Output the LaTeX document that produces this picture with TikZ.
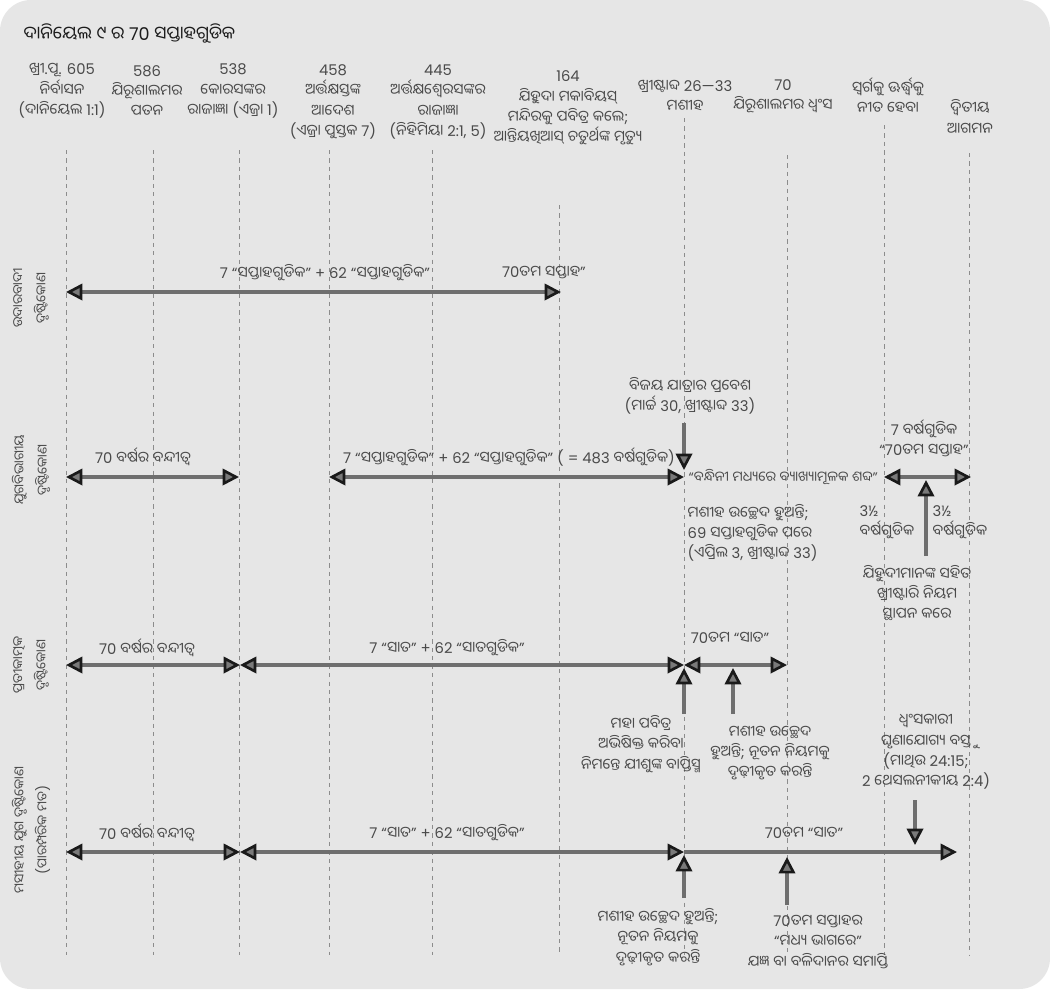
\documentclass[tikz,border=0pt]{standalone}
\usepackage{fontspec}
\usetikzlibrary{arrows.meta}
\setmainfont{Poppins}
\newfontfamily\latinfont{Poppins}
\newfontfamily\odiafont[Script=Oriya]{Noto Sans Oriya UI}
% Oriya letters switch to the Oriya face by themselves
\newXeTeXintercharclass\oriyaclass
\newcount\orcode
\orcode="0B00
\loop\ifnum\orcode<"0B80
 \XeTeXcharclass\orcode=\oriyaclass
 \advance\orcode by 1
\repeat
\XeTeXinterchartoks 0 \oriyaclass={\odiafont}
\XeTeXinterchartoks 4095 \oriyaclass={\odiafont}
\XeTeXinterchartoks \oriyaclass 0={\latinfont}
\XeTeXinterchartoks \oriyaclass 4095={\latinfont}
\XeTeXinterchartoks 4095 0={\latinfont}
\definecolor{ink}{HTML}{4A4A4A}
\definecolor{titleink}{HTML}{1C1C1C}
\definecolor{paper}{HTML}{E6E6E6}
\definecolor{bar}{HTML}{6E6E6E}
\definecolor{guideline}{HTML}{8C8C8C}
\definecolor{tipline}{HTML}{1A1A1A}
\definecolor{tipfill}{HTML}{7A7A7A}
\newcommand{\bodysize}{\fontsize{10.5}{14.4}\selectfont}
\newcommand{\lanesize}{\fontsize{9.5}{14.4}\selectfont}
\newcommand{\titlesize}{\fontsize{12.5}{15}\selectfont}
\tikzset{
 every node/.append style={font=\latinfont\bodysize,text=ink,align=center,inner sep=1pt},
 tri/.tip={Triangle[length=4.1mm,width=4.1mm,line width=1.9pt,color=tipline,fill=tipfill]},
 title/.style={anchor=west,text=titleink,font=\latinfont\titlesize},
 lane/.style={rotate=90,font=\latinfont\lanesize},
 guide/.style={draw=guideline,line width=.5pt,dash pattern=on 3pt off 3pt},
 span/.style={{tri}-{tri},draw=bar,line width=2.8pt},
 ray/.style={-{tri},draw=bar,line width=2.8pt},
 pin/.style={-{tri},draw=bar,line width=2.8pt},
}

\begin{document}
\XeTeXinterchartokenstate=1
\bodysize
\begin{tikzpicture}[x=0.025cm,y=-0.025cm]

\useasboundingbox (0,0) rectangle (1050,989);
\fill[white] (0,0) rectangle (1050,989);
\fill[paper,rounded corners=22] (0,0) rectangle (1050,989);
\node[title] (ttl) at (22,33) {ଦାନିୟେଲ ୯ ର 70 ସପ୍ତାହଗୁଡିକ};
% dates across the top
\node (h605) at (62,91) {ଖ୍ରୀ.ପୂ. 605\\ନିର୍ବାସନ\\(ଦାନିୟେଲ 1:1)};
\node (h586) at (147,91) {586\\ଯିରୂଶାଲମର\\ପତନ};
\node (h538) at (233,91) {538\\କୋରସଙ୍କର\\ରାଜାଜ୍ଞା (ଏଜ୍ରା 1)};
\node (h458) at (333,102) {458\\ଅର୍ତ୍ତକ୍ଷସ୍ତଙ୍କ\\ଆଦେଶ\\(ଏଜ୍ରା ପୁସ୍ତକ 7)};
\node (h445) at (438,102) {445\\ଅର୍ତ୍ତକ୍ଷଶ୍ୱେରସଙ୍କର\\ରାଜାଜ୍ଞା\\(ନିହିମିୟା 2:1, 5)};
\node (h164) at (568,108) {164\\ଯିହୁଦା ମକାବିୟସ୍\\ମନ୍ଦିରକୁ ପବିତ୍ର କଲେ;\\ଆନ୍ତିୟଖିଆସ୍ ଚତୁର୍ଥଙ୍କ ମୃତ୍ୟୁ};
\node (h26) at (685,96) {ଖ୍ରୀଷ୍ଟାବ୍ଦ 26—33\\ମଶୀହ};
\node (h70) at (783,96) {70\\ଯିରୂଶାଲମର ଧ୍ୱଂସ};
\node (hup) at (888,96) {ସ୍ୱର୍ଗକୁ ଊର୍ଦ୍ଧ୍ୱକୁ\\ନୀତ ହେବା};
\node (hend) at (970,117) {ଦ୍ୱିତୀୟ\\ଆଗମନ};
\foreach \gx/\gy in {66/150,153/150,239/150,329/150,432/150,559/205,684/118,787/155,884/125,969/153}
 \draw[guide] (\gx,\gy) -- (\gx,955);
% row labels
\node[lane] (v1) at (31,298) {ଉଦାରବାଦୀ\\[2pt]ଦୃଷ୍ଟିକୋଣ};
\node[lane] (v2) at (31,470) {ଯୁଗବିଭାଗୀୟ\\[2pt]ଦୃଷ୍ଟିକୋଣ};
\node[lane] (v3) at (31,665) {ପ୍ରତୀକାତ୍ମକ\\[2pt]ଦୃଷ୍ଟିକୋଣ};
\node[lane] (v4) at (31,830) {ମସୀହୀୟ ଯୁଗ ଦୃଷ୍ଟିକୋଣ\\[2pt](ପାରମ୍ପରିକ ମତ)};

% first row
\coordinate (a1) at (66,292); \coordinate (a2) at (561,292);
\draw[span] (a1) -- (a2);
\node (wk1) at (325,273) {7 “ସପ୍ତାହଗୁଡିକ” + 62 “ସପ୍ତାହଗୁଡିକ”};
\node (last1) at (544,273) {70ତମ ସପ୍ତାହ”};

% second row
\coordinate (b1) at (66,477); \coordinate (b2) at (239,477);
\coordinate (b3) at (329,477); \coordinate (b4) at (684,477);
\coordinate (b5) at (884,477); \coordinate (b6) at (971,477);
\draw[span] (b1) -- (b2); \draw[span] (b3) -- (b4); \draw[span] (b5) -- (b6);
\node (exile2) at (143,457) {70 ବର୍ଷର ବନ୍ଦୀତ୍ୱ};
\node (wk2) at (509,457) {7 “ସପ୍ତାହଗୁଡିକ” + 62 “ସପ୍ତାହଗୁଡିକ” ( = 483 ବର୍ଷଗୁଡିକ)};
\node (entry) at (690,396) {ବିଜୟ ଯାତ୍ରାର ପ୍ରବେଶ\\(ମାର୍ଚ୍ଚ 30, ଖ୍ରୀଷ୍ଟାବ୍ଦ 33)};
\node[anchor=west,font=\latinfont\fontsize{9.8}{14}\selectfont] (gap) at (687,477) {“ବନ୍ଧିନୀ ମଧ୍ୟରେ ବ୍ୟାଖ୍ୟାମୂଳକ ଶବ୍ଦ”};
\node (seven) at (924,438) {7 ବର୍ଷଗୁଡିକ\\“70ତମ ସପ୍ତାହ”};
\node[anchor=west,align=left] (cut1) at (686,533) {ମଶୀହ ଉଚ୍ଛେଦ ହୁଅନ୍ତି;\\69 ସପ୍ତାହଗୁଡିକ ପରେ\\(ଏପ୍ରିଲ 3, ଖ୍ରୀଷ୍ଟାବ୍ଦ 33)};
\node[anchor=west,align=left] (half1) at (858,522) {3½\\ବର୍ଷଗୁଡିକ};
\node[anchor=west,align=left] (half2) at (931,522) {3½\\ବର୍ଷଗୁଡିକ};
\node (pact) at (917,593) {ଯିହୁଦୀମାନଙ୍କ ସହିତ\\ଖ୍ରୀଷ୍ଟାରି ନିୟମ\\ସ୍ଥାପନ କରେ};
\coordinate (e1) at (684,423); \coordinate (e2) at (684,470);
\coordinate (p1) at (926,556); \coordinate (p2) at (926,480);
\draw[pin] (e1) -- (e2); \draw[pin] (p1) -- (p2);

% third row
\coordinate (c1) at (66,665); \coordinate (c2) at (240,665);
\coordinate (c3) at (684,665); \coordinate (c4) at (787,665);
\draw[span] (c1) -- (c2); \draw[span] (c2) -- (c3); \draw[span] (c3) -- (c4);
\node (exile3) at (147,648) {70 ବର୍ଷର ବନ୍ଦୀତ୍ୱ};
\node (wk3) at (447,648) {7 “ସାତ” + 62 “ସାତଗୁଡିକ”};
\node (last3) at (730,638) {70ତମ “ସାତ”};
\node (anoint) at (641,744) {ମହା ପବିତ୍ର\\ଅଭିଷିକ୍ତ କରିବା\\ନିମନ୍ତେ ଯୀଶୁଙ୍କ ବାପ୍ତିସ୍ମ};
\node (cut2) at (770,753) {ମଶୀହ ଉଚ୍ଛେଦ\\ହୁଅନ୍ତି; ନୂତନ ନିୟମକୁ\\ଦୃଢ଼ୀକୃତ କରନ୍ତି};
\coordinate (s1) at (684,714); \coordinate (s2) at (684,668);
\coordinate (s3) at (733,714); \coordinate (s4) at (733,668);
\draw[pin] (s1) -- (s2); \draw[pin] (s3) -- (s4);

% fourth row
\coordinate (d1) at (66,852); \coordinate (d2) at (240,852);
\coordinate (d3) at (684,852); \coordinate (d4) at (957,852);
\draw[span] (d1) -- (d2); \draw[span] (d2) -- (d3); \draw[ray] (d3) -- (d4);
\node (exile4) at (147,833) {70 ବର୍ଷର ବନ୍ଦୀତ୍ୱ};
\node (wk4) at (447,833) {7 “ସାତ” + 62 “ସାତଗୁଡିକ”};
\node (last4) at (804,833) {70ତମ “ସାତ”};
\node (abom) at (926,752) {ଧ୍ୱଂସକାରୀ\\ଘୃଣାଯୋଗ୍ୟ ବସ୍ତୁ\\(ମାଥିଉ 24:15;\\2 ଥେସଲନୀକୀୟ 2:4)};
\node (cut3) at (658,937) {ମଶୀହ ଉଚ୍ଛେଦ ହୁଅନ୍ତି;\\ନୂତନ ନିୟମକୁ\\ଦୃଢ଼ୀକୃତ କରନ୍ତି};
\node (midwk) at (818,942) {70ତମ ସପ୍ତାହର\\“ମଧ୍ୟ ଭାଗରେ”\\ଯଜ୍ଞ ବା ବଳିଦାନର ସମାପ୍ତି};
\coordinate (m1) at (915,800); \coordinate (m2) at (915,845);
\coordinate (m3) at (684,898); \coordinate (m4) at (684,855);
\coordinate (m5) at (787,905); \coordinate (m6) at (787,857);
\draw[pin] (m1) -- (m2); \draw[pin] (m3) -- (m4); \draw[pin] (m5) -- (m6);
\end{tikzpicture}
\end{document}
